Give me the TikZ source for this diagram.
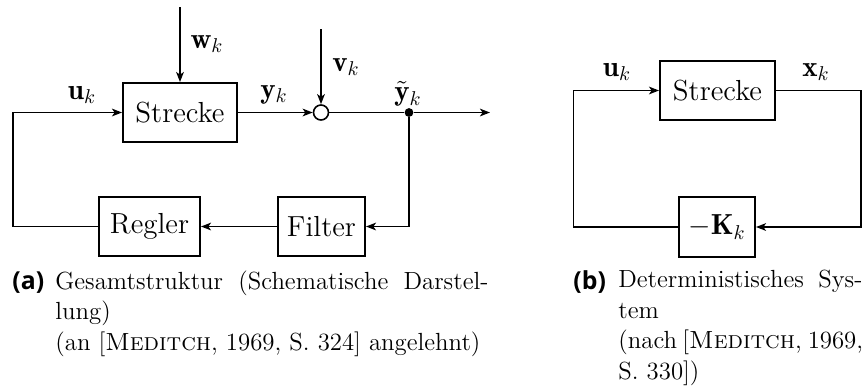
\documentclass[tikz,border=0pt]{standalone}
\usepackage{amsmath}
\usepackage{amssymb}
\usepackage{fontspec}
\newfontfamily\labfont{Open Sans}
\usepackage{tikz}
\usetikzlibrary{arrows.meta, positioning, calc}
\newcommand{\diafont}{\fontsize{14.5}{17}\selectfont}
\newcommand{\capfont}{\fontsize{12.4}{15.25}\selectfont}

\begin{document}
\begin{tikzpicture}[x=0.5pt, y=-0.5pt,
  box/.style={draw, line width=0.95pt, inner sep=0pt, minimum height=29.5pt,
              font=\diafont, fill=white},
  lbl/.style={inner sep=0pt, font=\diafont},
  arrow/.style={-{Stealth[length=5pt,width=3.8pt,inset=1.3pt]}, line width=0.95pt},
  plain/.style={line width=0.95pt},
  sum/.style={draw, circle, line width=0.8pt, minimum size=7.5pt, inner sep=0pt, fill=white},
  tap/.style={circle, fill=black, minimum size=4.4pt, inner sep=0pt},
  sublbl/.style={inner sep=0pt, anchor=base west, font=\capfont\labfont\bfseries},
  captext/.style={inner sep=0pt, anchor=north west, align=left, font=\capfont}
]
\useasboundingbox (0,0) rectangle (862,388);
%% (a) GESAMTSTRUKTUR
\node[box, minimum width=57pt]   (strA) at (180,112.5)   {Strecke};
\node[box, minimum width=50.5pt] (regl) at (149.5,226.5) {Regler};
\node[box, minimum width=43.5pt] (filt) at (321.5,226.5) {Filter};
\node[sum] (sum) at (321,112.5) {};
\node[tap] (tap) at (409,112.5) {};
\coordinate (wtop) at (180,7);
\coordinate (vtop) at (321,29);
\coordinate (out)  at (490,112.5);
\coordinate (lcA)  at (12.7,226.5);
\node[lbl] (wlbl)  at (207,44) {$\mathbf{w}_k$};
\node[lbl] (vlbl)  at (346,67) {$\mathbf{v}_k$};
\node[lbl] (ulblA) at (82,95)  {$\mathbf{u}_k$};
\node[lbl] (ylbl)  at (274,95) {$\mathbf{y}_k$};
\node[lbl] (ytlbl) at (408,94) {$\tilde{\mathbf{y}}_k$};
\draw[arrow](wtop)--(strA); \draw[arrow](vtop)--(sum);
\draw[arrow](strA)--(sum);  \draw[plain](sum)--(tap);
\draw[arrow](tap)--(out);
\draw[arrow](tap) |- (filt);
\draw[arrow](filt)--(regl);
\draw[arrow](regl)--(lcA) |- (strA);
%% (b) DETERMINISTISCH
\node[box, minimum width=57.5pt, minimum height=29.7pt] (strB) at (717.5,90.5) {Strecke};
\node[box, minimum width=38pt, minimum height=30pt]     (gain) at (717,227)    {$-\mathbf{K}_k$};
\coordinate (rcB) at (861,227);
\coordinate (lcB) at (573.5,227);
\node[lbl] (ulblB) at (617,72) {$\mathbf{u}_k$};
\node[lbl] (xlbl)  at (816,72) {$\mathbf{x}_k$};
\draw[arrow](strB) -| (rcB) -- (gain);
\draw[arrow](gain)--(lcB) |- (strB);
%% CAPTIONS
\node[sublbl] (capA) at (12,289) {(a)};
\node[captext] (txtA) at (55,270)
  {\makebox[216.5pt][s]{Gesamtstruktur (Schematische Darstel-}\\lung)\\
   (an [\textsc{Meditch}, 1969, S.~324] angelehnt)};
\node[sublbl] (capB) at (573,289) {(b)};
\node[captext] (txtB) at (618,270)
  {\makebox[122pt][s]{Deterministisches Sys-}\\tem\\
   \makebox[122pt][s]{(nach [\textsc{Meditch}, 1969,}\\S.~330])};
\end{tikzpicture}
\end{document}
